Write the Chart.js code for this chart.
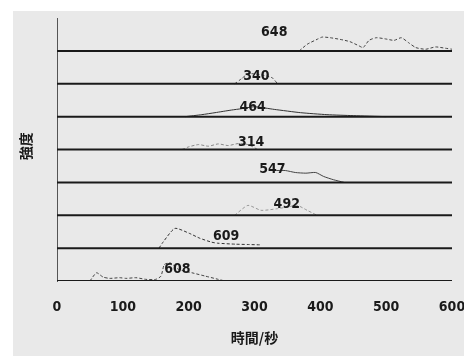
<!DOCTYPE html>
<html>
<head>
<meta charset="utf-8">
<script src="https://cdn.jsdelivr.net/npm/chart.js@4.4.1/dist/chart.umd.min.js"></script>
<style>
  html, body { margin: 0; padding: 0; background: #fff; }
  #wrap { width: 464px; height: 356px; }
</style>
</head>
<body>
<div id="wrap"><canvas id="c" width="464" height="356"></canvas></div>
<script>
// 各トレースのピーク値（上から下へ）
const peakLabels = ['648', '340', '464', '314', '547', '492', '609', '608'];
const bandLevel = [7, 6, 5, 4, 3, 2, 1, 0];
const xTicks = [0, 100, 200, 300, 400, 500, 600];

// ラベル位置 (秒, 基線からの高さ)
const labelX = [330, 303, 297, 295, 327, 349, 257, 183];
const labelH = [0.55, 0.22, 0.27, 0.22, 0.39, 0.33, 0.36, 0.36];

// トレース（秒, 基線からの高さ）
const t648x = [368, 380, 395, 403, 415, 430, 445, 459, 465, 474, 485, 500, 512, 523, 534, 545, 560, 575, 590, 600];
const t648h = [0, 0.2, 0.35, 0.42, 0.4, 0.35, 0.28, 0.15, 0.1, 0.32, 0.4, 0.36, 0.32, 0.4, 0.25, 0.1, 0.05, 0.12, 0.08, 0.05];
const t340x = [270, 280, 290, 300, 315, 327, 335];
const t340h = [0, 0.15, 0.3, 0.3, 0.25, 0.18, 0];
const t464x = [195, 220, 240, 265, 280, 300, 330, 370, 410, 450, 500];
const t464h = [0, 0.06, 0.12, 0.2, 0.24, 0.3, 0.22, 0.12, 0.06, 0.03, 0];
const t314x = [190, 200, 215, 230, 245, 260, 275, 290, 305];
const t314h = [0, 0.08, 0.15, 0.1, 0.17, 0.12, 0.18, 0.15, 0];
const t547x = [330, 347, 362, 378, 393, 405, 420, 436];
const t547h = [0.36, 0.36, 0.3, 0.28, 0.3, 0.18, 0.08, 0];
const t492x = [270, 290, 310, 335, 350, 365, 380, 395];
const t492h = [0, 0.3, 0.15, 0.2, 0.25, 0.3, 0.15, 0];
const t609x = [155, 161, 179, 201, 217, 235, 244, 271, 290, 308];
const t609h = [0, 0.18, 0.6, 0.45, 0.3, 0.18, 0.15, 0.12, 0.11, 0.1];
const t608x = [50, 60, 70, 80, 95, 105, 120, 135, 150, 158, 163, 172, 185, 205, 225, 245, 255];
const t608h = [0, 0.25, 0.12, 0.08, 0.1, 0.08, 0.1, 0.05, 0.05, 0.15, 0.5, 0.55, 0.35, 0.25, 0.15, 0.05, 0];

const traceX = [t648x, t340x, t464x, t314x, t547x, t492x, t609x, t608x];
const traceH = [t648h, t340h, t464h, t314h, t547h, t492h, t609h, t608h];
const traceColor = ['#444', '#555', '#333', '#888', '#444', '#999', '#333', '#444'];
const traceDash = [[3, 2], [3, 2], [], [3, 2], [], [3, 2], [3, 2], [3, 2]];

const narrow = '"DejaVu Sans Condensed", "Liberation Sans Narrow", "Liberation Sans", sans-serif';

const datasets = [];
// 基線
bandLevel.forEach(k => {
  datasets.push({
    data: [{ x: 0, y: k }, { x: 600, y: k }],
    borderColor: '#1a1a1a',
    borderWidth: 2,
    pointRadius: 0,
    order: 1
  });
});
// トレース
traceX.forEach((xs, i) => {
  datasets.push({
    data: xs.map((x, j) => ({ x: x, y: bandLevel[i] + traceH[i][j] })),
    borderColor: traceColor[i],
    borderWidth: 1,
    borderDash: traceDash[i],
    pointRadius: 0,
    tension: 0.2,
    order: 2
  });
});

const bgPlugin = {
  id: 'bg',
  beforeDraw(chart) {
    const ctx = chart.ctx;
    ctx.save();
    ctx.fillStyle = '#fff';
    ctx.fillRect(0, 0, chart.width, chart.height);
    ctx.fillStyle = '#e9e9e9';
    ctx.fillRect(13, 11, chart.width - 13, chart.height - 11);
    ctx.restore();
  }
};

const textPlugin = {
  id: 'texts',
  afterDatasetsDraw(chart) {
    const ctx = chart.ctx;
    const xs = chart.scales.x, ys = chart.scales.y;
    ctx.save();
    ctx.fillStyle = '#1a1a1a';
    ctx.font = 'bold 14px ' + narrow;
    ctx.textAlign = 'center';
    ctx.textBaseline = 'middle';
    peakLabels.forEach((t, i) => {
      ctx.fillText(t, xs.getPixelForValue(labelX[i]), ys.getPixelForValue(bandLevel[i] + labelH[i]));
    });
    // 縦軸ラベル
    ctx.translate(26, ys.getPixelForValue(4.1));
    ctx.rotate(-Math.PI / 2);
    ctx.font = 'bold 14px "Noto Sans CJK JP", sans-serif';
    ctx.fillText('強度', 0, 0);
    ctx.restore();
  }
};

new Chart(document.getElementById('c'), {
  type: 'line',
  data: { datasets: datasets },
  options: {
    responsive: false,
    animation: false,
    layout: { padding: { left: 57, right: 0, top: 18, bottom: 4 } },
    plugins: { legend: { display: false }, tooltip: { enabled: false } },
    scales: {
      x: {
        type: 'linear',
        min: 0,
        max: 600,
        afterBuildTicks: axis => { axis.ticks = xTicks.map(v => ({ value: v })); },
        afterFit: axis => { axis.height = 71; axis.paddingRight = 12; axis.paddingLeft = 0; },
        grid: { display: false, drawTicks: false },
        border: { display: false },
        ticks: { padding: 18, color: '#1a1a1a', font: { family: narrow, size: 14, weight: 'bold' } },
        title: {
          display: true,
          text: '時間/秒',
          color: '#1a1a1a',
          padding: { top: 0, bottom: 6 },
          font: { family: '"Noto Sans CJK JP", sans-serif', size: 14, weight: 'bold' }
        }
      },
      y: {
        min: 0,
        max: 8,
        ticks: { display: false },
        grid: { display: false, drawTicks: false },
        border: { display: true, color: '#555', width: 1, dash: [2, 2] }
      }
    }
  },
  plugins: [bgPlugin, textPlugin]
});
</script>
</body>
</html>
